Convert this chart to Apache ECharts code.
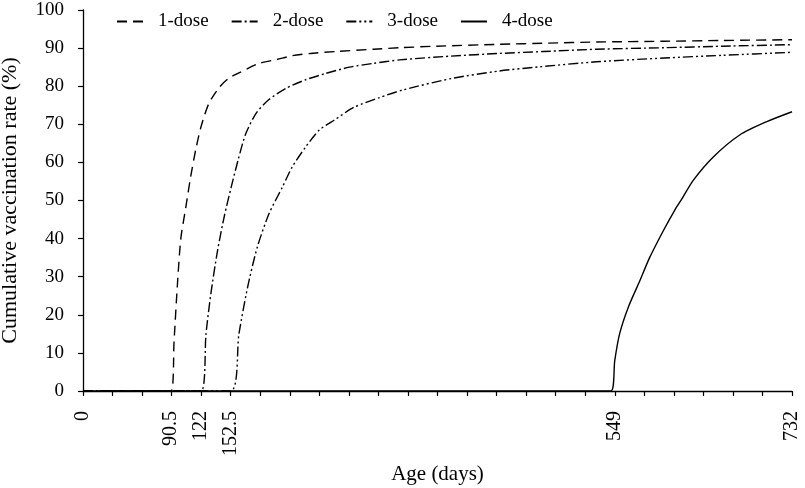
<!DOCTYPE html>
<html>
<head>
<meta charset="utf-8">
<script src="https://cdn.jsdelivr.net/npm/echarts@6/dist/echarts.min.js"></script>
<style>
html,body{margin:0;padding:0;background:#fff;}
#chart{width:805px;height:488px;}
</style>
</head>
<body>
<div id="chart"></div>
<script>
// ---- data (x = age in days, y = cumulative rate %) ----
var seriesNames = ['1-dose', '2-dose', '3-dose', '4-dose'];

var dose1Days = [0, 91, 94, 97.5, 101, 106, 111, 116.5, 122, 130, 141, 150, 161, 182, 200, 216, 235, 261, 300, 327, 365, 430, 480, 530, 600, 660, 732];
var dose1Rate = [0, 0, 13, 28, 40, 48, 56, 63.5, 69.5, 75.5, 79.8, 82, 83.5, 86, 87, 88, 88.6, 89.1, 89.7, 90.1, 90.5, 91, 91.3, 91.6, 91.8, 92, 92.2];

var dose2Days = [0, 122, 127, 132, 139, 146, 153, 160, 168, 179, 192, 210, 230, 250, 275, 300, 327, 380, 430, 475, 530, 600, 660, 732];
var dose2Rate = [0, 0, 15, 25.5, 37, 46, 53.5, 60.5, 67.5, 73, 76.5, 79.5, 81.7, 83.3, 85, 86, 86.9, 87.9, 88.6, 89.1, 89.7, 90.1, 90.5, 90.9];

var dose3Days = [0, 152.5, 161, 170, 180, 192, 206, 216, 230, 244, 260, 280, 306, 330, 380, 430, 472, 530, 600, 660, 732];
var dose3Rate = [0, 0, 15, 27.3, 37.8, 46.5, 53.6, 58.8, 64.1, 68.5, 71.2, 74.5, 77, 79, 82, 84, 85.1, 86.4, 87.4, 88.1, 88.9];

var dose4Days = [0, 545, 549, 554, 563, 575, 585, 599, 611, 618, 630, 651, 678, 706, 732];
var dose4Rate = [0, 0, 8, 15, 22, 29, 35, 42, 47.5, 50.3, 55.3, 61.5, 67.2, 70.7, 73.3];

var xLabelValues = [0, 90.5, 122, 152.5, 549, 732];
var xTickStep = 30.5;   // monthly ticks
var xMax = 732;
var yTicks = [0, 10, 20, 30, 40, 50, 60, 70, 80, 90, 100];

// ---- build ----
function pairs(xs, ys) { return xs.map(function (x, i) { return [x, ys[i]]; }); }
var xTickValues = [];
for (var i = 0; i * xTickStep <= xMax + 0.001; i++) xTickValues.push(+(i * xTickStep).toFixed(2));

var FONT = "'Liberation Serif', 'Times New Roman', serif";
var dashes = [[10, 6], [10, 3, 2, 3], [10, 3, 2, 3, 2, 3], 'solid'];
var allData = [pairs(dose1Days, dose1Rate), pairs(dose2Days, dose2Rate), pairs(dose3Days, dose3Rate), pairs(dose4Days, dose4Rate)];

var chart = echarts.init(document.getElementById('chart'), null, { renderer: 'canvas' });
chart.setOption({
  animation: false,
  backgroundColor: '#fff',
  textStyle: { fontFamily: FONT, color: '#000' },
  grid: { left: 83, right: 13, top: 10, bottom: 97, containLabel: false, outerBoundsMode: 'none' },
  legend: {
    left: 116, top: 12, padding: 0,
    itemWidth: 26, itemHeight: 14, itemGap: 22,
    itemStyle: { color: 'rgba(0,0,0,0)', borderColor: 'rgba(0,0,0,0)', borderWidth: 0 },
    textStyle: { fontFamily: FONT, fontSize: 19, color: '#000', padding: [0, 0, 0, 10] },
    data: seriesNames
  },
  xAxis: {
    type: 'value', min: 0, max: xMax,
    name: 'Age (days)', nameLocation: 'middle', nameGap: 73,
    nameTextStyle: { fontFamily: FONT, fontSize: 21, color: '#000' },
    axisLine: { show: true, onZero: false, lineStyle: { color: '#000', width: 1.3 } },
    axisTick: { show: true, inside: false, length: 5, customValues: xTickValues, lineStyle: { color: '#000', width: 1.2 } },
    axisLabel: { customValues: xLabelValues, rotate: 90, margin: 20, fontFamily: FONT, fontSize: 20, color: '#000',
      formatter: function (v) { return String(v); } },
    splitLine: { show: false }
  },
  yAxis: {
    type: 'value', min: 0, max: 100, interval: 10,
    name: 'Cumulative vaccination rate (%)', nameLocation: 'middle', nameGap: 62,
    nameTextStyle: { fontFamily: FONT, fontSize: 22, color: '#000' },
    axisLine: { show: true, lineStyle: { color: '#000', width: 1.3 } },
    axisTick: { show: true, inside: false, length: 5, lineStyle: { color: '#000', width: 1.2 } },
    axisLabel: { margin: 19, fontFamily: FONT, fontSize: 19, color: '#000',
      customValues: yTicks },
    splitLine: { show: false }
  },
  series: seriesNames.map(function (n, k) {
    return {
      name: n, type: 'line', data: allData[k],
      showSymbol: false, symbol: 'none', smooth: 0.25,
      lineStyle: { color: '#000', width: 1.4, type: dashes[k] },
      itemStyle: { color: '#000' },
      z: 3
    };
  })
});
</script>
</body>
</html>
